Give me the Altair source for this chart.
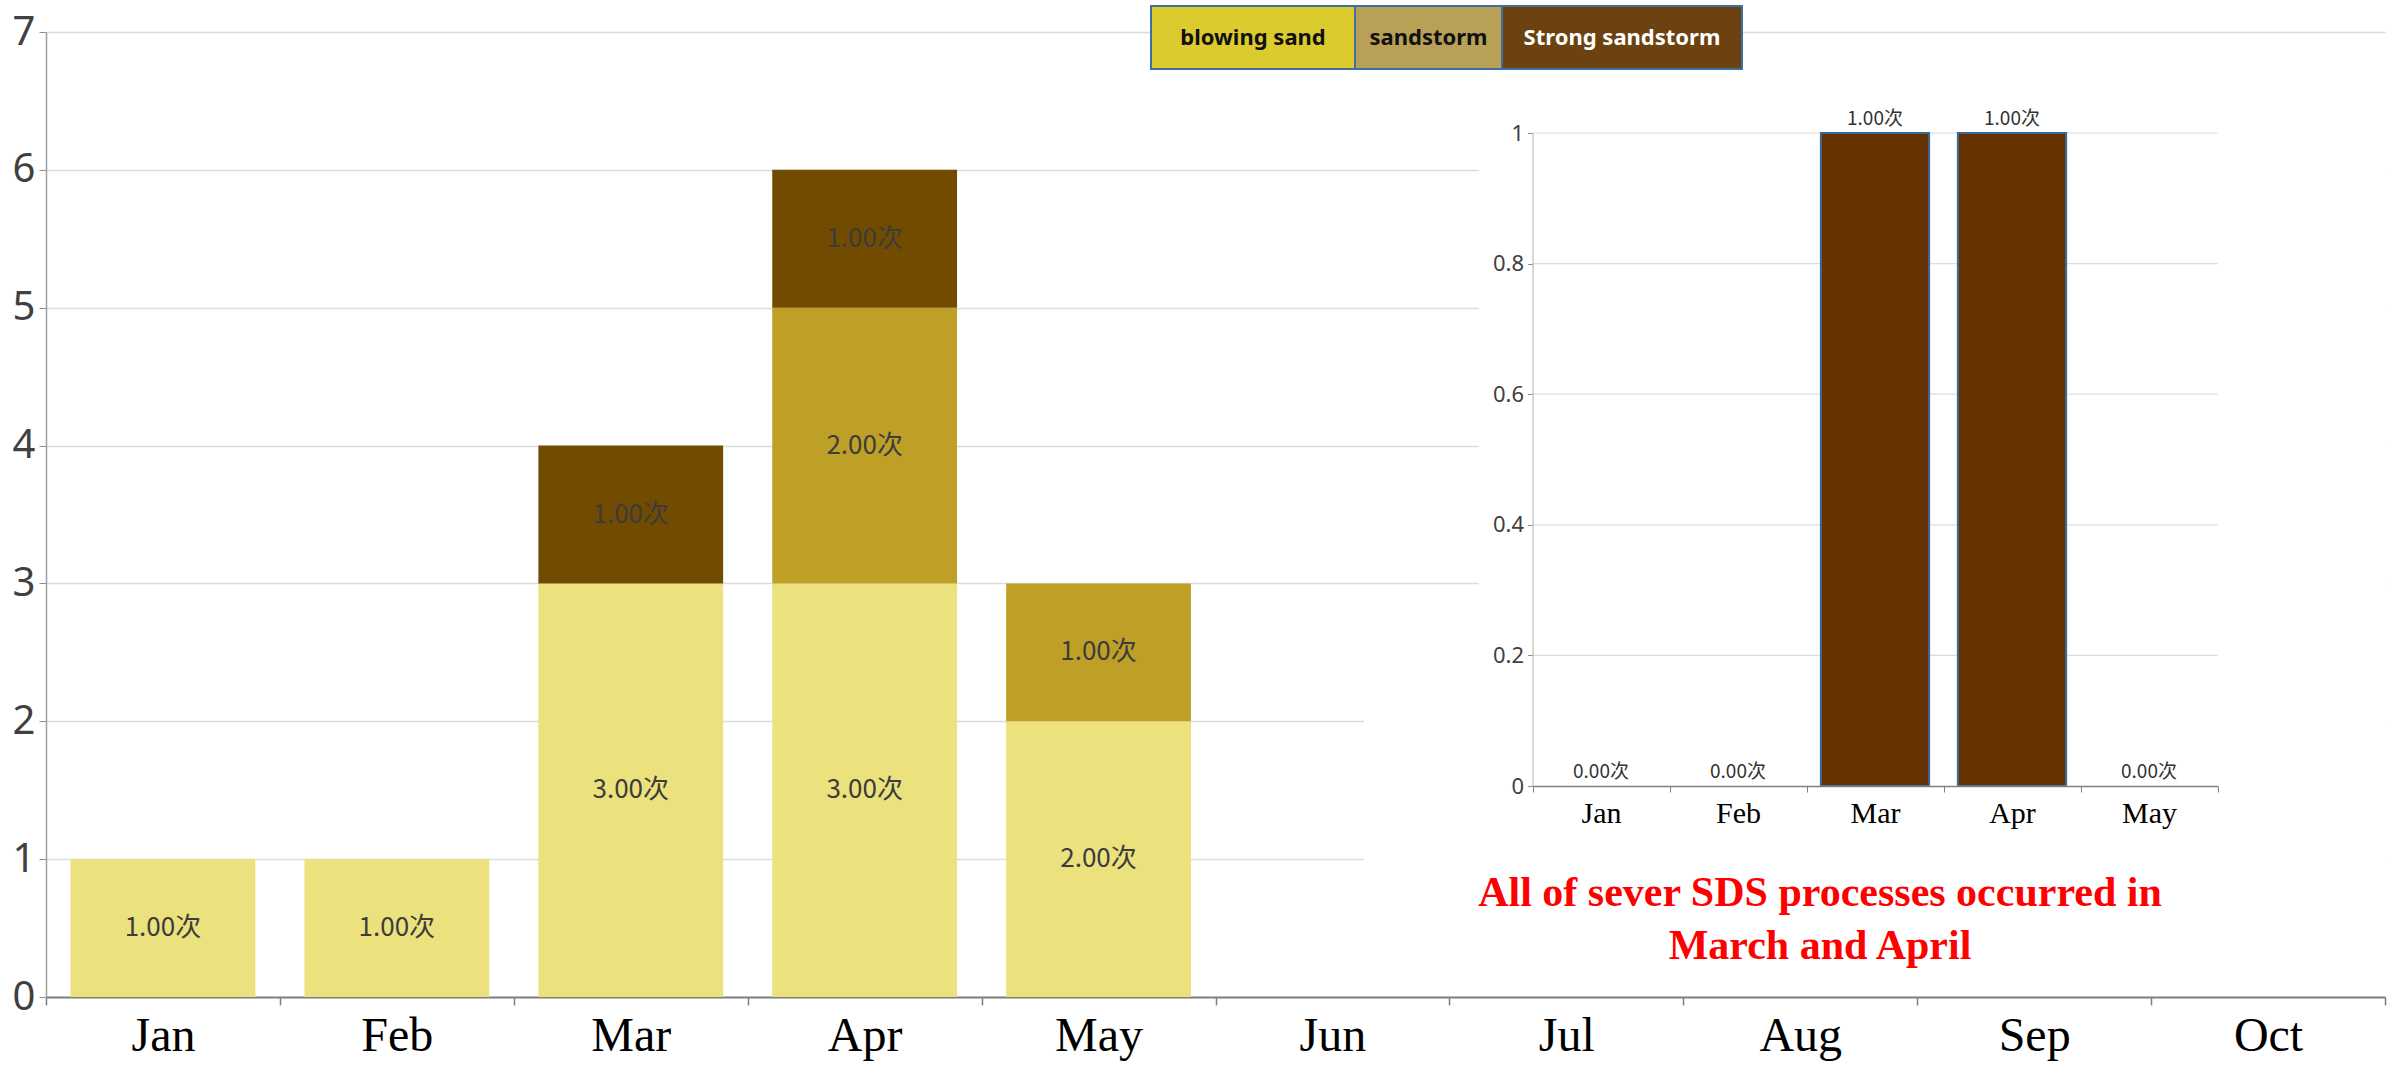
import altair as alt
import pandas as pd

# ---------------- data ----------------
months = ["Jan", "Feb", "Mar", "Apr", "May", "Jun", "Jul", "Aug", "Sep", "Oct"]
categories = ["blowing sand", "sandstorm", "Strong sandstorm"]
blowing_sand = [1, 1, 3, 3, 2, 0, 0, 0, 0, 0]
sandstorm = [0, 0, 0, 2, 1, 0, 0, 0, 0, 0]
strong_sandstorm = [0, 0, 1, 1, 0, 0, 0, 0, 0, 0]
y_ticks = [0, 1, 2, 3, 4, 5, 6, 7]

inset_months = ["Jan", "Feb", "Mar", "Apr", "May"]
inset_values = [0, 0, 1, 1, 0]
inset_ticks = [0, 0.2, 0.4, 0.6, 0.8, 1]

annotation = ["All of sever SDS processes occurred in", "March and April"]

# ---------------- styles ----------------
bar_colors = ["#EBE17D", "#BFA026", "#714C00"]
legend_colors = ["#DCCB2F", "#B9A057", "#6B4210"]
legend_text_colors = ["#111111", "#111111", "#FFFFFF"]
legend_border = "#3E6FA0"

W, H = 2339, 965

rows = []
series = [blowing_sand, sandstorm, strong_sandstorm]
for i, m in enumerate(months):
    base = 0
    for k, cat in enumerate(categories):
        v = series[k][i]
        if v > 0:
            rows.append(dict(month=m, category=cat, value=v, order=k, mid=base + v / 2))
        base += v
df = pd.DataFrame(rows)

main_xscale = alt.Scale(domain=months, paddingInner=0, paddingOuter=0)
main_xaxis = alt.Axis(title=None, labelAngle=0, labelFont="Liberation Serif", labelFontSize=48,
                      labelColor="#000000", domainColor="#808080", domainWidth=2,
                      tickColor="#808080", tickSize=8, tickWidth=1.5, tickBand="extent",
                      labelPadding=7, grid=False)
main_yscale = alt.Scale(domain=[0, 7], nice=False)
main_yaxis = alt.Axis(title=None, values=y_ticks, labelFont="Noto Sans", labelFontSize=40,
                      labelColor="#404040", domainColor="#a0a0a0", domainWidth=1.5,
                      tickColor="#909090", tickSize=7, labelPadding=4,
                      grid=True, gridColor="#dcdcdc", gridWidth=1.5)

bars = alt.Chart(df).mark_bar(width=alt.RelativeBandSize(0.79)).encode(
    x=alt.X("month:N", sort=months, scale=main_xscale, axis=main_xaxis),
    y=alt.Y("value:Q", stack="zero", scale=main_yscale, axis=main_yaxis),
    color=alt.Color("category:N", scale=alt.Scale(domain=categories, range=bar_colors), legend=None),
    order=alt.Order("order:Q"),
)
bar_labels = alt.Chart(df).transform_calculate(
    label="format(datum.value, '.2f') + '次'"
).mark_text(font="Noto Sans CJK SC", fontSize=26, color="#3c3c3c", baseline="middle").encode(
    x=alt.X("month:N", sort=months, scale=main_xscale, axis=main_xaxis),
    y=alt.Y("mid:Q", scale=main_yscale, axis=main_yaxis),
    text="label:N",
)
main = alt.layer(bars, bar_labels)

one = pd.DataFrame({"a": [0]})
overlay1 = alt.Chart(one).mark_rect(color="white").encode(
    x=alt.value(1433), x2=alt.value(W), y=alt.value(43), y2=alt.value(600))
overlay2 = alt.Chart(one).mark_rect(color="white").encode(
    x=alt.value(1318), x2=alt.value(W), y=alt.value(600), y2=alt.value(955))

# ---------------- inset ----------------
idf = pd.DataFrame({"month": inset_months, "value": inset_values})
in_xscale = alt.Scale(domain=inset_months, range=[1486.5, 2171.5], paddingInner=0, paddingOuter=0)
in_xaxis = alt.Axis(title=None, orient="bottom", offset=-211, labelAngle=0, labelFont="Liberation Serif",
                    labelFontSize=30, labelColor="#000000", domainColor="#808080", domainWidth=1.5,
                    tickColor="#808080", tickSize=6, tickBand="extent", labelPadding=6, grid=False,
                    zindex=1)
in_yscale = alt.Scale(domain=[0, 1], range=[754, 101], nice=False)
in_yaxis = alt.Axis(title=None, orient="left", offset=-1486.5, values=inset_ticks, format="~g",
                    labelFont="Noto Sans", labelFontSize=22, labelColor="#404040",
                    domainColor="#b0b0b0", domainWidth=1, tickColor="#909090", tickSize=5,
                    labelPadding=4, grid=False, zindex=1)

gdf = pd.DataFrame({"value": inset_ticks[1:]})
in_grid = alt.Chart(gdf).mark_rule(color="#dcdcdc", strokeWidth=1.2).encode(
    y=alt.Y("value:Q", scale=in_yscale, axis=in_yaxis),
    x=alt.value(1486.5), x2=alt.value(2171.5),
)
in_bars = alt.Chart(idf).transform_filter("datum.value > 0").mark_bar(
    width=alt.RelativeBandSize(0.79), color="#663300", stroke="#3B6A9A", strokeWidth=2
).encode(
    x=alt.X("month:N", sort=inset_months, scale=in_xscale, axis=in_xaxis),
    y=alt.Y("value:Q", scale=in_yscale, axis=in_yaxis),
)
in_labels = alt.Chart(idf).transform_calculate(
    label="format(datum.value, '.2f') + '次'"
).mark_text(font="Noto Sans CJK SC", fontSize=19, color="#333333", baseline="bottom", dy=-4).encode(
    x=alt.X("month:N", sort=inset_months, scale=in_xscale, axis=in_xaxis),
    y=alt.Y("value:Q", scale=in_yscale, axis=in_yaxis),
    text="label:N",
)
inset = alt.layer(in_grid, in_bars, in_labels)

# ---------------- legend ----------------
box_edges = [1105, 1309, 1456, 1696]
legend_layers = []
for k, cat in enumerate(categories):
    ldf = pd.DataFrame({"name": [cat]})
    x0, x1 = box_edges[k], box_edges[k + 1]
    legend_layers.append(alt.Chart(ldf).mark_rect(
        color=legend_colors[k], stroke=legend_border, strokeWidth=2).encode(
        x=alt.value(x0), x2=alt.value(x1), y=alt.value(-26), y2=alt.value(37)))
    legend_layers.append(alt.Chart(ldf).mark_text(
        font="Noto Sans", fontWeight="bold", fontSize=22, color=legend_text_colors[k],
        baseline="middle", align="center").encode(
        x=alt.value((x0 + x1) / 2), y=alt.value(5.5), text="name:N"))

annot = alt.Chart(one).mark_text(
    text=annotation, font="Liberation Serif", fontWeight="bold", fontSize=42, color="#FF0000",
    align="center", baseline="alphabetic", lineHeight=53).encode(
    x=alt.value(1774), y=alt.value(874))

chart = alt.layer(main, overlay1, overlay2, inset, *legend_layers, annot).resolve_scale(
    x="independent", y="independent", color="independent"
).resolve_axis(x="independent", y="independent").properties(
    width=W, height=H,
    autosize=alt.AutoSizeParams(type="none"),
    padding={"left": 46, "top": 32, "right": 18, "bottom": 69},
    background="white",
).configure_view(stroke=None)

chart.save("out.html", embed_options={"renderer": "svg", "actions": False})
